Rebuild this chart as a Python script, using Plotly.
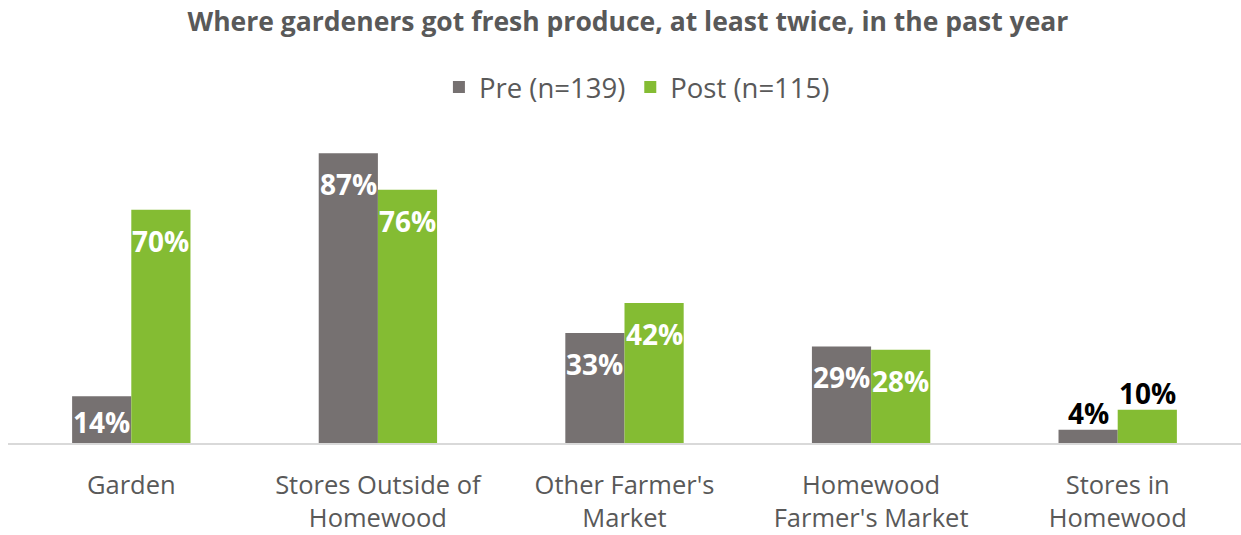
import plotly.graph_objects as go

categories = ["Garden", "Stores Outside of<br>Homewood", "Other Farmer's<br>Market",
              "Homewood<br>Farmer's Market", "Stores in<br>Homewood"]
pre_values = [0.14, 0.87, 0.33, 0.29, 0.04]
post_values = [0.70, 0.76, 0.42, 0.28, 0.10]
series_names = ["Pre (n=139)", "Post (n=115)"]

GRAY = "#767171"
GREEN = "#84BC33"
TEXT = "#595959"
FONT = "Open Sans, Segoe UI, sans-serif"

BARGAP = 0.52
YMAX = 0.995
PLOT_H = 535 - 110 - 92

fig = go.Figure()
annotations = []
bar_w = (1 - BARGAP) / 2
for k, (name, vals, col) in enumerate([(series_names[0], pre_values, GRAY),
                                       (series_names[1], post_values, GREEN)]):
    fig.add_trace(go.Bar(name=name, x=list(range(len(categories))), y=vals,
                         marker=dict(color=col, line=dict(width=0)),
                         hoverinfo="x+y"))
    offset = (k - 0.5) * bar_w
    for i, v in enumerate(vals):
        label = f"{round(v*100)}%"
        h = v / YMAX * PLOT_H
        if v >= 0.12:
            ysh = -min(10, max(0, (h - 38) / 2))
            annotations.append(dict(x=i + offset, y=v, xref="x", yref="y", text=f"<b>{label}</b>",
                                    showarrow=False, yanchor="top", yshift=ysh,
                                    font=dict(family=FONT, size=28, color="white")))
        else:
            annotations.append(dict(x=i + offset, y=v, xref="x", yref="y", text=f"<b>{label}</b>",
                                    showarrow=False, yanchor="bottom", yshift=-4,
                                    font=dict(family=FONT, size=28, color="black")))

fig.update_layout(
    width=1241, height=535,
    paper_bgcolor="white", plot_bgcolor="white",
    margin=dict(l=8, r=0, t=110, b=92),
    barmode="group", bargap=BARGAP, bargroupgap=0,
    title=dict(text="<b>Where gardeners got fresh produce, at least twice, in the past year</b>",
               x=0.506, xanchor="center", y=1 - 22 / 535, yanchor="middle",
               font=dict(family=FONT, size=26.5, color=TEXT)),
    legend=dict(orientation="h", x=633 / 1241, xanchor="center", yref="container",
                y=1 - 87 / 535, yanchor="middle",
                font=dict(family=FONT, size=27.5, color=TEXT),
                itemsizing="constant", traceorder="normal", itemwidth=30),
    showlegend=True,
    annotations=annotations,
)
fig.update_xaxes(tickmode="array", tickvals=list(range(len(categories))), ticktext=categories,
                 range=[-0.5, len(categories) - 0.5],
                 showline=True, linecolor="#D9D9D9", linewidth=2, ticks="",
                 tickfont=dict(family=FONT, size=25.5, color=TEXT),
                 ticklabelstandoff=18, automargin=False)
fig.update_yaxes(range=[0, YMAX], visible=False, showgrid=False, zeroline=False, automargin=False)

fig.write_html("out.html", config={"displayModeBar": False},
               post_script="document.body.style.margin='0';")
